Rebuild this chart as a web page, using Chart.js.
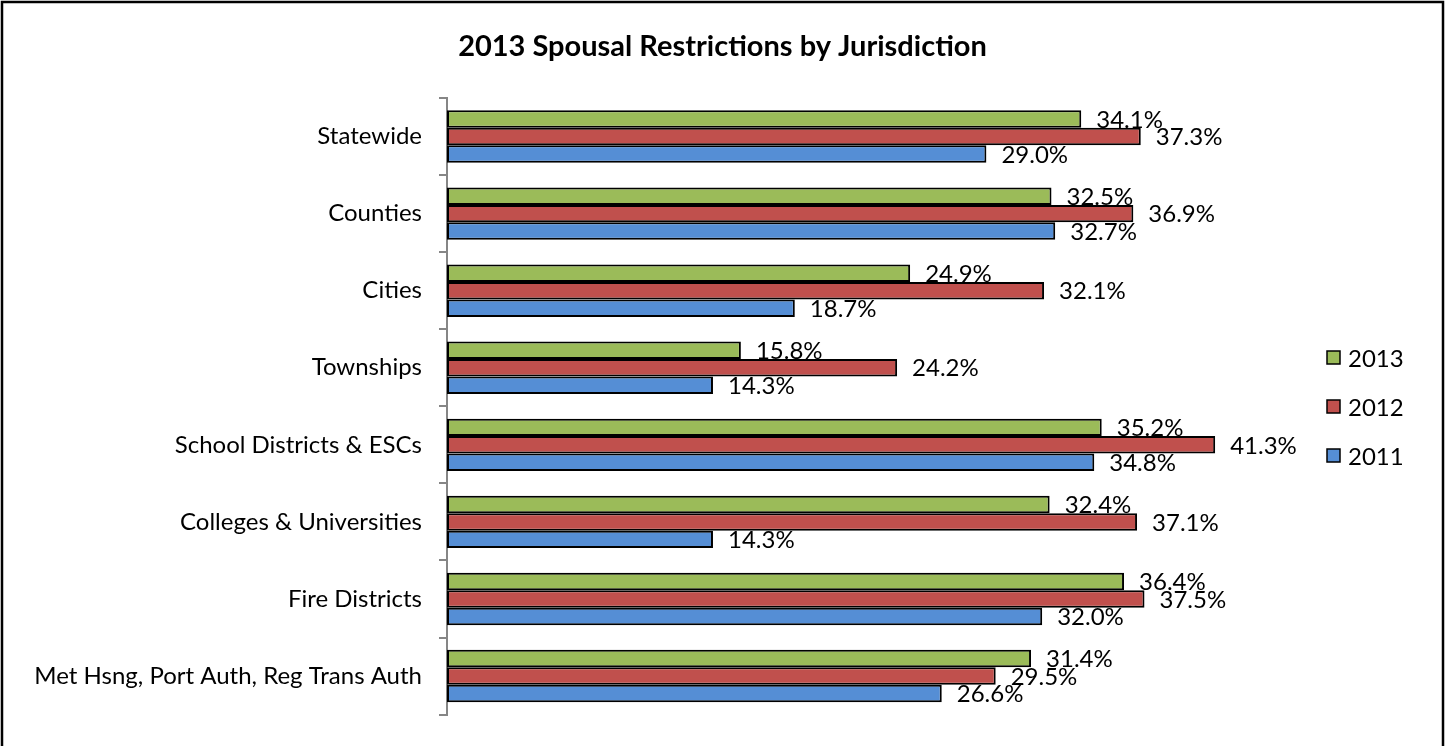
<!DOCTYPE html>
<html>
<head>
<meta charset="utf-8">
<script src="https://cdn.jsdelivr.net/npm/chart.js@4/dist/chart.umd.min.js"></script>
<style>
  html, body { margin: 0; padding: 0; background: #fff; }
  #wrap { width: 1445px; height: 746px; }
</style>
</head>
<body>
<div id="wrap"><canvas id="chart" width="1445" height="746"></canvas></div>
<script>
// Données
const chartTitle = "2013 Spousal Restrictions by Jurisdiction";
const jurisdictions = [
  "Statewide",
  "Counties",
  "Cities",
  "Townships",
  "School Districts & ESCs",
  "Colleges & Universities",
  "Fire Districts",
  "Met Hsng, Port Auth, Reg Trans Auth"
];
const values2013 = [34.1, 32.5, 24.9, 15.8, 35.2, 32.4, 36.4, 31.4];
const values2012 = [37.3, 36.9, 32.1, 24.2, 41.3, 37.1, 37.5, 29.5];
const values2011 = [29.0, 32.7, 18.7, 14.3, 34.8, 14.3, 32.0, 26.6];

const FONT = "Lato, 'Noto Sans', sans-serif";

// Cadre noir + titre centré sur toute la largeur
const framePlugin = {
  id: "frame",
  beforeDraw(chart) {
    const ctx = chart.ctx;
    ctx.save();
    ctx.fillStyle = "#fff";
    ctx.fillRect(0, 0, chart.width, chart.height);
    ctx.strokeStyle = "#000";
    ctx.lineWidth = 2.5;
    ctx.strokeRect(2, 2, chart.width - 4, chart.height + 10);
    ctx.font = "bold 29px " + FONT;
    ctx.fillStyle = "#000";
    ctx.textAlign = "center";
    ctx.textBaseline = "middle";
    ctx.fillText(chartTitle, chart.width / 2, 47);
    ctx.restore();
  }
};

// Étiquettes de valeurs à droite des barres
const valueLabels = {
  id: "valueLabels",
  afterDatasetsDraw(chart) {
    const ctx = chart.ctx;
    ctx.save();
    ctx.font = "24px " + FONT;
    ctx.fillStyle = "#000";
    ctx.textBaseline = "middle";
    ctx.textAlign = "left";
    chart.data.datasets.forEach((ds, i) => {
      chart.getDatasetMeta(i).data.forEach((bar, j) => {
        ctx.fillText(ds.data[j].toFixed(1) + "%", bar.x + 15, bar.y + 1);
      });
    });
    ctx.restore();
  }
};

// Légende dessinée à droite
const sideLegend = {
  id: "sideLegend",
  afterDraw(chart) {
    const ctx = chart.ctx;
    ctx.save();
    ctx.font = "24px " + FONT;
    ctx.textBaseline = "middle";
    chart.data.datasets.forEach((ds, i) => {
      const y = 358 + i * 49;
      ctx.fillStyle = ds.backgroundColor;
      ctx.fillRect(1327, y - 7, 13, 13);
      ctx.strokeStyle = "#000";
      ctx.lineWidth = 1.5;
      ctx.strokeRect(1327, y - 7, 13, 13);
      ctx.fillStyle = "#000";
      ctx.fillText(ds.label, 1348, y + 1);
    });
    ctx.restore();
  }
};

new Chart(document.getElementById("chart").getContext("2d"), {
  type: "bar",
  data: {
    labels: jurisdictions,
    datasets: [
      { label: "2013", data: values2013, backgroundColor: "#9BBB59" },
      { label: "2012", data: values2012, backgroundColor: "#C0504D" },
      { label: "2011", data: values2011, backgroundColor: "#558ED5" }
    ]
  },
  options: {
    indexAxis: "y",
    responsive: false,
    animation: false,
    layout: { padding: { left: 0, right: 161, top: 98, bottom: 30 } },
    datasets: {
      bar: {
        borderColor: "#000",
        borderWidth: 2,
        borderSkipped: false,
        categoryPercentage: 0.68,
        barPercentage: 1.0
      }
    },
    plugins: {
      legend: { display: false },
      tooltip: { enabled: false },
      title: { display: false }
    },
    scales: {
      x: { display: false, min: 0, max: 45 },
      y: {
        afterFit(scale) { scale.width = 447; },
        grid: {
          drawOnChartArea: false,
          drawTicks: true,
          tickLength: 8,
          color: "#868686",
          lineWidth: 2
        },
        border: { display: true, color: "#868686", width: 2 },
        ticks: {
          color: "#000",
          padding: 17,
          font: { family: FONT, size: 24 }
        }
      }
    }
  },
  plugins: [framePlugin, valueLabels, sideLegend]
});
</script>
</body>
</html>
